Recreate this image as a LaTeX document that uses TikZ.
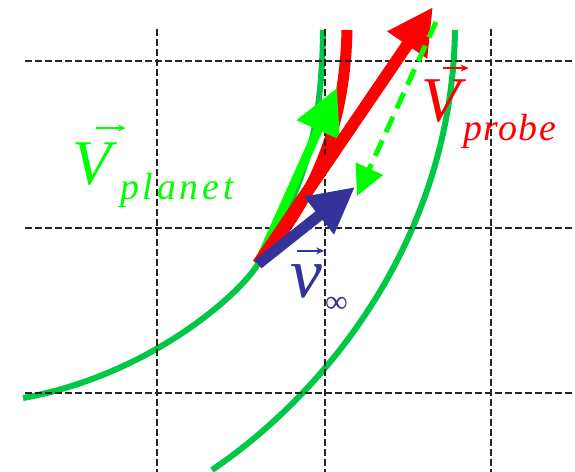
\documentclass[tikz,border=0pt]{standalone}
\usepackage{fontspec}
\setmainfont{Liberation Serif}
\usetikzlibrary{arrows.meta,calc}

\definecolor{orbitgreen}{RGB}{0,200,70}
\definecolor{vecgreen}{RGB}{0,255,0}
\definecolor{vecred}{RGB}{255,0,0}
\definecolor{vecblue}{RGB}{51,51,153}

\begin{document}
\begin{tikzpicture}[x=1bp, y=-1bp,
    grid/.style={black!85, line width=1.4bp, dash pattern=on 7bp off 3bp},
    orbit/.style={orbitgreen, line width=6bp},
    bigV/.style={inner sep=0pt, anchor=base west, font=\fontsize{64}{64}\selectfont\itshape},
    smallv/.style={inner sep=0pt, anchor=base west, font=\fontsize{72}{72}\selectfont\itshape},
    subs/.style={inner sep=0pt, anchor=base west, font=\fontsize{38}{38}\selectfont\itshape},
    vecarr/.style={line width=2bp, -{Stealth[length=8bp,width=7bp]}},
    vel/.style={line width=#1, -{Triangle[length=46bp,width=45bp]}}
]
\useasboundingbox (0,0) rectangle (575,472);

\coordinate (O) at (258,264);
\coordinate (tipplanet) at (337,88);
\coordinate (tipprobe) at (433,7);
\coordinate (tipinf) at (355,187);
\coordinate (dashstart) at (436,22);
\coordinate (tipdash) at (357,196);

% orbits
\draw[orbit] (23,398) .. controls (150,375) and (240,294) .. (O)
    .. controls (295,200) and (322,150) .. (323,30);
\draw[orbit] (212,470) .. controls (330,390) and (452,235) .. (455,30);
\draw[vecred, line width=11bp] (O) .. controls (320,190) and (345,120) .. (347,30);

% grid
\foreach \gx in {157,325,491}
    \draw[grid] (\gx,29) -- (\gx,472);
\foreach \gy in {61,228,393}
    \draw[grid] (25,\gy) -- (575,\gy);

% velocities
\draw[vecgreen, vel=9bp] (O) -- (tipplanet);
\draw[vecred, vel=12bp] (O) -- (tipprobe);
\draw[vecblue, vel=11bp] (O) -- (tipinf);
\draw[vecgreen, line width=5bp, dash pattern=on 17bp off 9bp,
    -{Triangle[length=30bp,width=29bp]}] (dashstart) -- (tipdash);

% labels
\node[bigV, vecgreen] (Vplanet) at (72,185) {V};
\node[subs, vecgreen] (planetlbl) at (120,200) {\addfontfeature{LetterSpace=10}planet};
\draw[vecarr, vecgreen] ($(Vplanet.north)+(4,-15)$) -- ++(30,0);

\node[bigV, vecred] (Vprobe) at (421,122) {V};
\node[subs, vecred] (probelbl) at (463,141) {\addfontfeature{LetterSpace=4}probe};
\draw[vecarr, vecred] ($(Vprobe.north)+(2,-12)$) -- ++(26,0);

\node[smallv, vecblue] (vinf) at (290,297) {v};
\node[inner sep=0pt, anchor=base west, vecblue, font=\fontsize{32}{32}\selectfont] (inflbl) at (325,312) {∞};
\draw[vecarr, vecblue] ($(vinf.north)+(-9,-13)$) -- ++(27,0);
\end{tikzpicture}
\end{document}
